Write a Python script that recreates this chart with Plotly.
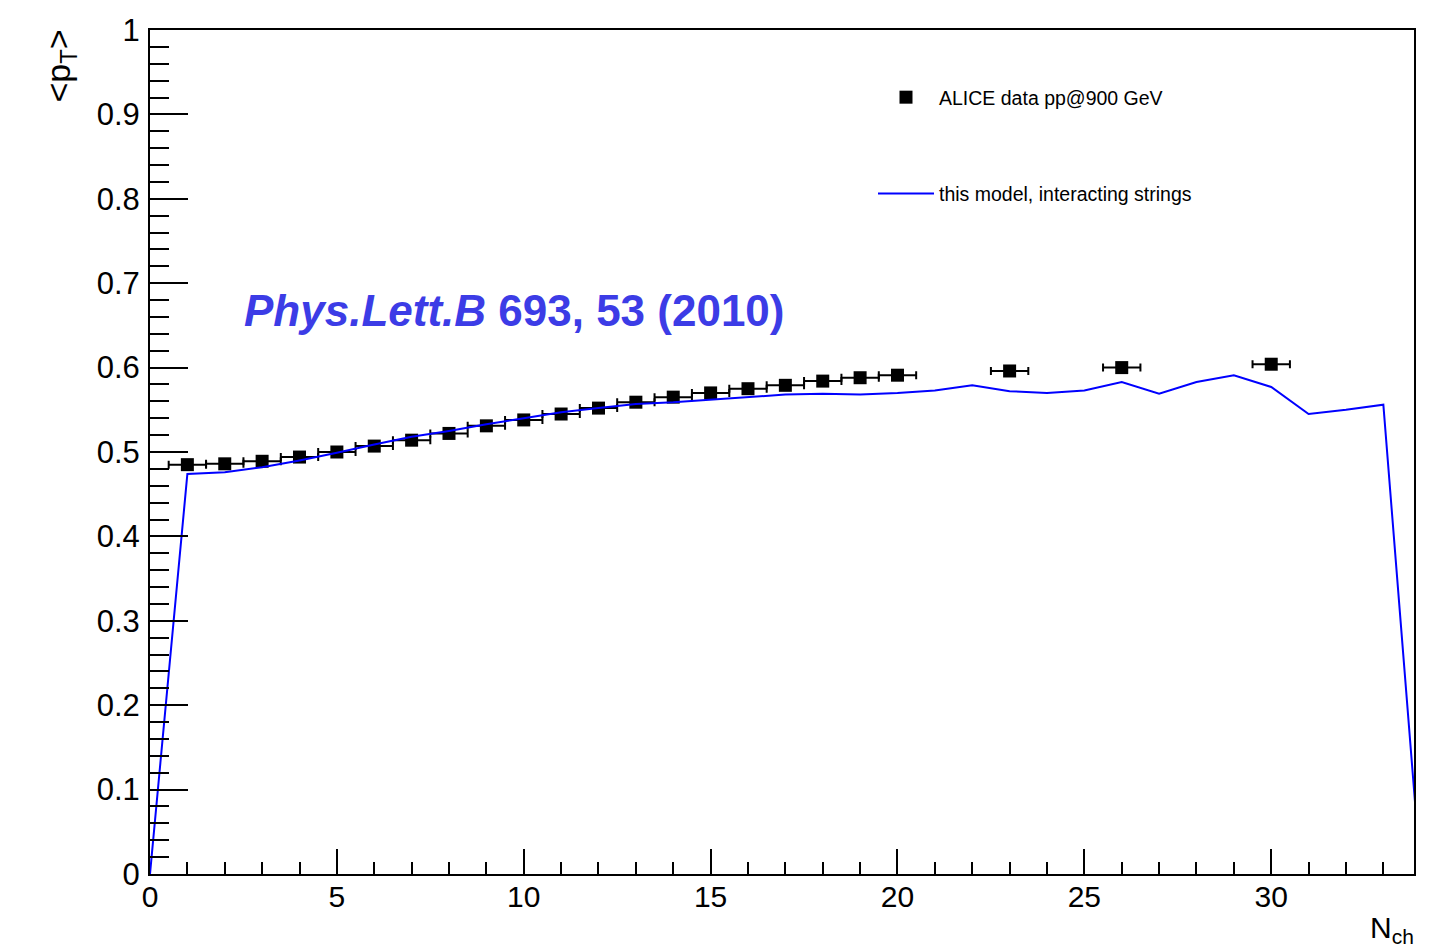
import plotly.graph_objects as go

# ALICE data
data_x = [1, 2, 3, 4, 5, 6, 7, 8, 9, 10, 11, 12, 13, 14, 15, 16, 17, 18, 19, 20, 23, 26, 30]
data_y = [0.485, 0.486, 0.489, 0.494, 0.500, 0.507, 0.514, 0.522, 0.531, 0.538, 0.545, 0.552,
          0.559, 0.565, 0.570, 0.575, 0.579, 0.584, 0.588, 0.591, 0.596, 0.600, 0.604]
data_xerr = [0.5] * len(data_x)

# model curve
model_x = list(range(0, 35))
model_y = [0.0, 0.474, 0.476, 0.482, 0.490, 0.499, 0.509, 0.518, 0.525, 0.533, 0.540, 0.547,
           0.552, 0.557, 0.559, 0.562, 0.565, 0.568, 0.569, 0.568, 0.570, 0.573, 0.579, 0.572,
           0.570, 0.573, 0.583, 0.569, 0.583, 0.591, 0.577, 0.545, 0.550, 0.556, 0.0]

FONT = "Liberation Sans, Arial, Helvetica, sans-serif"

# page offset (body margin) compensation
OFF = 8
W, H = 1434 - 2 * OFF, 951 - OFF
L, R, T, B = 150 - OFF, 12, 30 - OFF, 77
pw, ph = W - L - R, H - T - B


def px(page_x):
    return (page_x - OFF - L) / pw


def py(page_y):
    return (H - B - (page_y - OFF)) / ph


fig = go.Figure()
fig.add_trace(go.Scatter(
    x=data_x, y=data_y, mode="markers", name="ALICE data pp@900 GeV",
    marker=dict(symbol="square", size=13, color="black"),
    error_x=dict(type="data", array=data_xerr, color="black", thickness=2, width=4),
    legendgroup="a"))
fig.add_trace(go.Scatter(
    x=model_x, y=model_y, mode="lines", name="this model, interacting strings",
    line=dict(color="#0000ff", width=2), legendgroup="b"))

fig.add_annotation(x=2.45, y=0.668, xref="x", yref="y", xanchor="left", yanchor="middle",
                   text="<b><i>Phys.Lett.B</i> 693, 53 (2010)</b>", showarrow=False,
                   font=dict(family=FONT, size=44, color="#3c3ce6"))

fig.add_annotation(x=px(60), y=py(28), xref="paper", yref="paper", xanchor="center", yanchor="top",
                   text="&lt;p<sub>T</sub>&gt;", textangle=-90, showarrow=False,
                   font=dict(family=FONT, size=34, color="black"))
fig.add_annotation(x=px(1416), y=py(950), xref="paper", yref="paper", xanchor="right", yanchor="bottom",
                   text="N<sub>ch</sub>", showarrow=False,
                   font=dict(family=FONT, size=30, color="black"))

fig.update_layout(
    width=W, height=H,
    margin=dict(l=L, r=R, t=T, b=B, autoexpand=False),
    paper_bgcolor="white", plot_bgcolor="white",
    font=dict(family=FONT, color="black"),
    showlegend=True,
    legend=dict(x=px(873), y=py(78), xanchor="left", yanchor="top",
                bgcolor="rgba(0,0,0,0)", font=dict(family=FONT, size=19.5),
                itemwidth=56,
                tracegroupgap=68, traceorder="grouped"),
    xaxis=dict(range=[0, 33.82], showgrid=False, zeroline=False, automargin=False,
               showline=True, linecolor="black", linewidth=2, mirror=True,
               ticks="inside", ticklen=25, tickwidth=2, tickcolor="black",
               tick0=0, dtick=5, tickfont=dict(size=30, family=FONT),
               ticklabelstandoff=-5,
               minor=dict(ticks="inside", ticklen=12, tickwidth=2, tickcolor="black", dtick=1, showgrid=False)),
    yaxis=dict(range=[0, 1], showgrid=False, zeroline=False, automargin=False,
               showline=True, linecolor="black", linewidth=2, mirror=True,
               ticks="inside", ticklen=38, tickwidth=2, tickcolor="black",
               tick0=0, dtick=0.1, tickformat="~g", tickfont=dict(size=31, family=FONT),
               ticklabelstandoff=2,
               minor=dict(ticks="inside", ticklen=19, tickwidth=2, tickcolor="black", dtick=0.02, showgrid=False)),
)

fig.write_html("out.html")
